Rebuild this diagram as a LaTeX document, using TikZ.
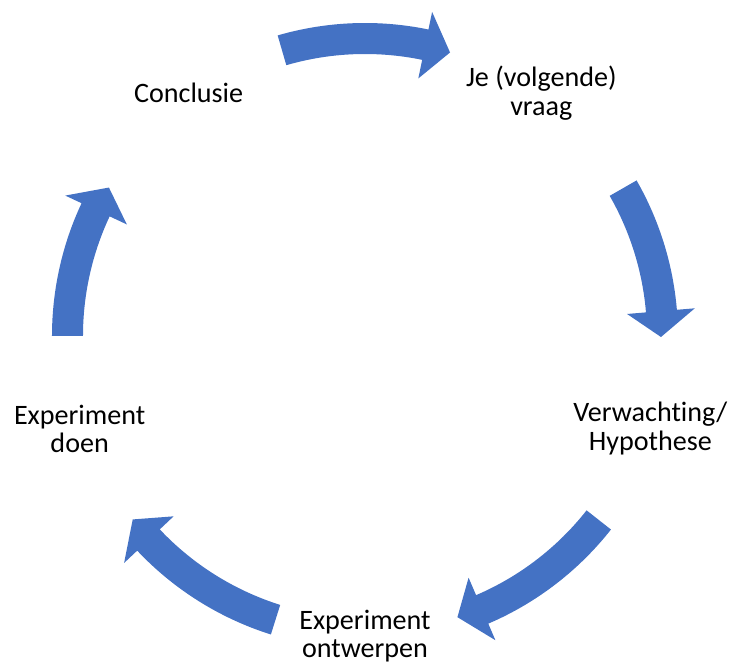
\documentclass[tikz,border=0pt]{standalone}
\usepackage{fontspec}
\setmainfont{Carlito}[Ligatures=NoCommon]
\usepackage{tikz}
\definecolor{cycleblue}{RGB}{68,114,196}

% block arrow on the cycle: #1 = tail angle, #2 = tip angle (clockwise)
\newcommand{\cyclearrow}[2]{%
  \fill[cycleblue] (#1:3.13) arc[start angle=#1, end angle=#2+5, radius=3.13]
    -- (#2+5:3.31) -- (#2:2.96) -- (#2+5:2.63) -- (#2+5:2.82)
    arc[start angle=#2+5, end angle=#1, radius=2.82] -- cycle;}

\begin{document}
\begin{tikzpicture}[
    stepnode/.style={align=center, inner sep=1pt, text=black,
                     font=\fontsize{8}{8.1}\selectfont}
]
\useasboundingbox (-3.65,-3.29) rectangle (3.70,3.36);

% Cycle steps
\node[stepnode] (vraag) at (54:3) {Je (volgende)\\vraag};
\node[stepnode] (hypo) at (-18:3) {Verwachting/\\Hypothese};
\node[stepnode] (ontwerp) at (-90:3) {Experiment\\ontwerpen};
\node[stepnode] (doen) at (198:3) {Experiment\\doen};
\node[stepnode] (concl) at (126:3) {Conclusie};

% Arrows between steps
\cyclearrow{106.2}{73.3}   % concl -> vraag
\cyclearrow{29.8}{-0.2}    % vraag -> hypo
\cyclearrow{-38.2}{-71.8}  % hypo -> ontwerp
\cyclearrow{-107.5}{-141.7}% ontwerp -> doen
\cyclearrow{180}{149.9}    % doen -> concl
\end{tikzpicture}
\end{document}
